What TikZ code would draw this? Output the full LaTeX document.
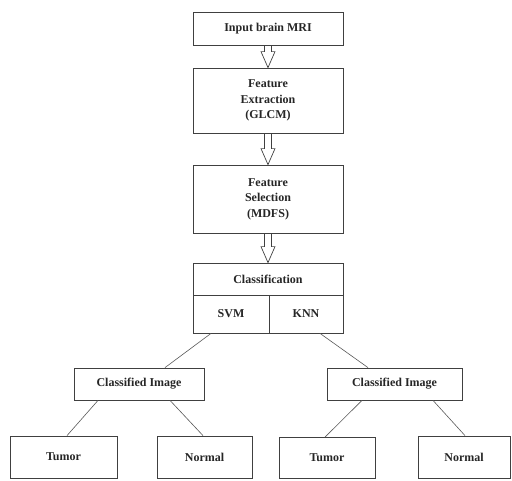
\documentclass[tikz,border=0pt]{standalone}
\usepackage{fontspec}
\setmainfont{Liberation Serif}
\usetikzlibrary{calc}
\newcommand{\hollowarrow}[2]{%
	\draw[arr] let \p1=(#1.south), \p2=(#2.north) in
		(\x1-3.5pt,\y1) -- (\x1-3.5pt,\y2+16pt) -- (\x1-7pt,\y2+16pt) -- (\x1,\y2)
		-- (\x1+7pt,\y2+16pt) -- (\x1+3.5pt,\y2+16pt) -- (\x1+3.5pt,\y1);}

\begin{document}
\begin{tikzpicture}[x=1pt,y=-1pt]
	\tikzset{box/.style={draw=black!75, line width=0.8pt, inner sep=0pt, align=center,
		font=\fontsize{12}{15.5}\selectfont\bfseries, text=black!85}}
	\tikzset{arr/.style={draw=black!75, line width=0.7pt}}
	\tikzset{link/.style={draw=black!65, line width=0.6pt}}
	\useasboundingbox (0,0) rectangle (512,480);
	% main chain
	\node[box, minimum width=150pt, minimum height=33pt] (mri) at (268,28.5) {Input brain MRI};
	\node[box, minimum width=150pt, minimum height=65pt] (glcm) at (268,100.5) {Feature\\Extraction\\(GLCM)};
	\node[box, minimum width=150pt, minimum height=68pt] (mdfs) at (268,199) {Feature\\Selection\\(MDFS)};
	\node[box, minimum width=150pt, minimum height=32pt] (class) at (268,279) {Classification};
	\node[box, minimum width=76pt, minimum height=38pt] (svm) at (231,314) {SVM};
	\node[box, minimum width=74pt, minimum height=38pt] (knn) at (306,314) {KNN};
	\hollowarrow{mri}{glcm}
	\hollowarrow{glcm}{mdfs}
	\hollowarrow{mdfs}{class}
	% classified images
	\node[box, minimum width=130pt, minimum height=32pt] (cimgA) at (139,384) {Classified Image};
	\node[box, minimum width=135pt, minimum height=32pt] (cimgB) at (394.5,384) {Classified Image};
	\node[box, minimum width=107pt, minimum height=42pt] (tumorA) at (63.5,457) {Tumor};
	\node[box, minimum width=95pt, minimum height=42pt] (normalA) at (204.5,457) {Normal};
	\node[box, minimum width=96pt, minimum height=41pt] (tumorB) at (327,458) {Tumor};
	\node[box, minimum width=92pt, minimum height=42pt] (normalB) at (464,457) {Normal};
	\draw[link] ([xshift=-20pt]svm.south) -- ([xshift=26pt]cimgA.north);
	\draw[link] ([xshift=14pt]knn.south) -- ([xshift=-26.5pt]cimgB.north);
	\draw[link] ([xshift=-41pt]cimgA.south) -- ([xshift=3.5pt]tumorA.north);
	\draw[link] ([xshift=31pt]cimgA.south) -- ([xshift=-1.5pt]normalA.north);
	\draw[link] ([xshift=-32.5pt]cimgB.south) -- ([xshift=-2pt]tumorB.north);
	\draw[link] ([xshift=38.5pt]cimgB.south) -- ([xshift=1pt]normalB.north);
\end{tikzpicture}
\end{document}
